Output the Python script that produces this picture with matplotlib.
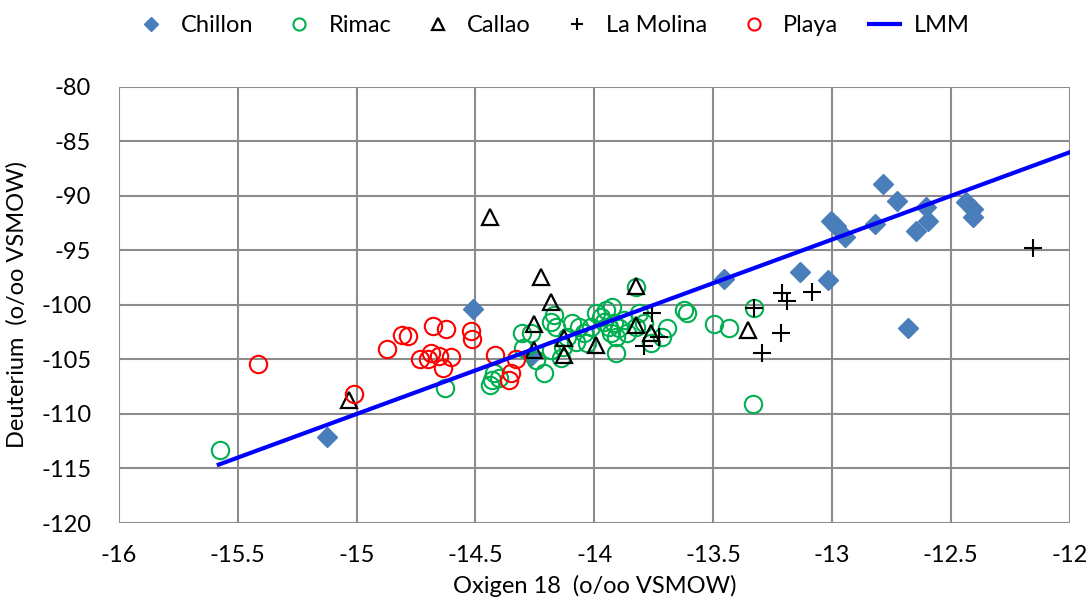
import matplotlib
matplotlib.use("Agg")
import matplotlib.pyplot as plt

# ---- data ----
chillon_x = [-15.125, -14.51, -14.268, -13.456, -13.136, -13.015, -13.004, -12.983, -12.945,
             -12.786, -12.726, -12.817, -12.646, -12.604, -12.596, -12.678, -12.435, -12.407, -12.407]
chillon_y = [-112.08, -100.4, -104.68, -97.64, -96.97, -97.7, -92.26, -92.8, -93.8,
             -88.9, -90.43, -92.57, -93.2, -91.04, -92.3, -102.14, -90.52, -91.2, -91.9]

rimac_x = [-15.576, -14.627, -14.423, -14.429, -14.437, -14.403, -14.303, -14.298, -14.247, -14.212,
           -14.184, -14.170, -14.163, -14.142, -14.184, -14.113, -14.092, -14.078, -14.064, -14.043,
           -14.029, -14.015, -13.994, -13.952, -13.924, -13.973, -13.959, -13.938, -13.917, -13.896,
           -13.931, -13.910, -13.875, -13.861, -13.826, -13.812, -13.791, -13.762, -13.692, -13.713,
           -13.910, -13.622, -13.608, -13.495, -13.432, -13.327, -13.334, -13.826, -14.133, -14.268]
rimac_y = [-113.30, -107.59, -106.27, -106.88, -107.34, -106.70, -102.60, -103.94, -105.05, -106.27,
           -101.53, -100.92, -101.99, -104.89, -104.13, -102.91, -101.68, -103.37, -101.99, -102.60,
           -103.51, -101.99, -100.76, -100.46, -100.16, -101.07, -101.53, -101.99, -101.68, -102.14,
           -102.60, -102.91, -101.38, -102.60, -101.99, -100.76, -101.68, -103.51, -102.14, -102.91,
           -104.43, -100.46, -100.76, -101.77, -102.14, -100.30, -109.08, -98.32, -103.85, -102.57]

callao_x = [-14.437, -14.226, -13.826, -14.18, -14.254, -14.254, -14.128, -14.128, -13.994,
            -13.826, -13.762, -13.355, -15.034]
callao_y = [-91.9, -97.46, -98.3, -99.7, -101.7, -104.1, -103.06, -104.6, -103.67,
            -101.8, -102.6, -102.3, -108.7]

molina_x = [-12.154, -13.21, -13.189, -13.084, -13.327, -13.214, -13.294, -13.755, -13.727, -13.79]
molina_y = [-94.8, -98.87, -99.6, -98.78, -100.3, -102.6, -104.43, -100.76, -102.9, -103.8]

playa_x = [-14.872, -14.809, -14.785, -14.678, -14.626, -14.518, -14.514, -14.735, -14.689, -14.701,
           -14.654, -14.602, -14.636, -14.416, -14.331, -14.352, -14.359, -15.013, -15.414]
playa_y = [-104.07, -102.75, -102.84, -101.93, -102.23, -102.36, -103.12, -104.98, -104.37, -104.98,
           -104.68, -104.74, -105.81, -104.59, -104.98, -106.27, -106.88, -108.2, -105.44]

lmm_x = [-15.58, -12.0]
lmm_y = [8 * v + 10 for v in lmm_x]

x_ticks = [-16, -15.5, -15, -14.5, -14, -13.5, -13, -12.5, -12]
x_ticklabels = ["-16", "-15.5", "-15", "-14.5", "-14", "-13.5", "-13", "-12.5", "-12"]
y_ticks = [-120, -115, -110, -105, -100, -95, -90, -85, -80]
y_ticklabels = ["-120", "-115", "-110", "-105", "-100", "-95", "-90", "-85", "-80"]

# ---- figure ----
plt.rcParams['font.family'] = ['Lato', 'DejaVu Sans']
plt.rcParams['axes.unicode_minus'] = False
fig = plt.figure(figsize=(10.88, 6.08), dpi=100)
ax = fig.add_axes([0.1094, 0.1398, 0.8736, 0.7172])

ax.plot(chillon_x, chillon_y, linestyle='none', marker='D', markersize=10,
        color='#4A7EBB', markeredgecolor='#4A7EBB', label='Chillon')
ax.plot(rimac_x, rimac_y, linestyle='none', marker='o', markersize=12.5,
        markerfacecolor='none', markeredgecolor='#00B050', markeredgewidth=1.5, label='Rimac')
ax.plot(callao_x, callao_y, linestyle='none', marker='^', markersize=12,
        markerfacecolor='none', markeredgecolor='black', markeredgewidth=1.6, label='Callao')
ax.plot(molina_x, molina_y, linestyle='none', marker='+', markersize=13,
        color='black', markeredgewidth=1.5, label='La Molina')
ax.plot(playa_x, playa_y, linestyle='none', marker='o', markersize=12.5,
        markerfacecolor='none', markeredgecolor='#FF0000', markeredgewidth=1.5, label='Playa')
ax.plot(lmm_x, lmm_y, color='#0000FF', linewidth=3, label='LMM')

ax.set_xlim(-16, -12)
ax.set_ylim(-120, -80)
ax.set_xticks(x_ticks)
ax.set_xticklabels(x_ticklabels)
ax.set_yticks(y_ticks)
ax.set_yticklabels(y_ticklabels)
ax.grid(True, color='#8c8c8c', linewidth=1.5)
ax.set_axisbelow(True)
for s in ax.spines.values():
    s.set_visible(False)
ax.tick_params(axis='both', length=0, labelsize=17, colors='black')
ax.tick_params(axis='y', pad=20)
ax.tick_params(axis='x', pad=16)
ax.set_xlabel('Oxigen 18  (o/oo VSMOW)', fontsize=17, labelpad=6)
ax.set_ylabel('Deuterium  (o/oo VSMOW)', fontsize=17, labelpad=10)

handles, labels = ax.get_legend_handles_labels()
leg = fig.legend(handles, labels, loc='upper center', bbox_to_anchor=(0.508, 1.01), ncol=6,
                 frameon=False, fontsize=17, handlelength=1.3, columnspacing=1.3,
                 handletextpad=0.6, markerscale=0.7)

fig.savefig('out.png', dpi=100)
